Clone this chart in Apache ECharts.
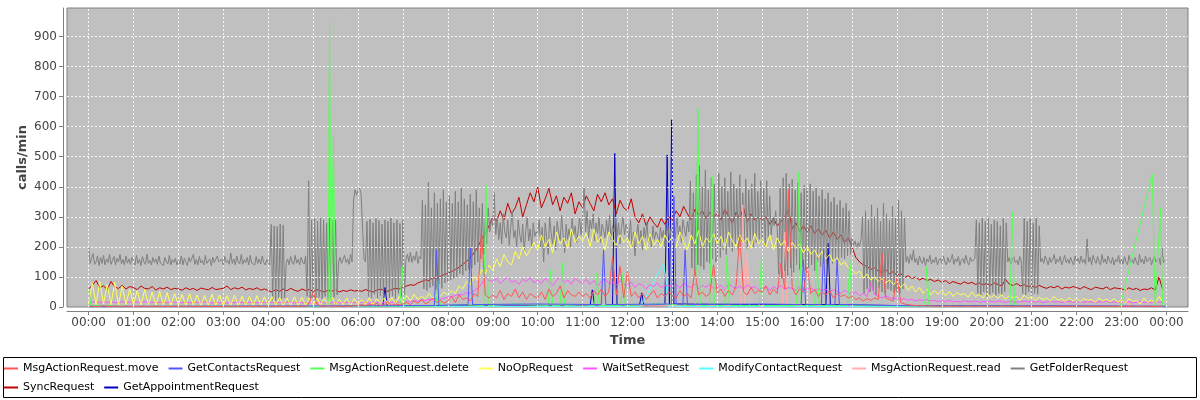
<!DOCTYPE html>
<html><head><meta charset="utf-8">
<script src="https://cdn.jsdelivr.net/npm/echarts@6.0.0/dist/echarts.min.js"></script>
<style>html,body{margin:0;padding:0;background:#fff}#chart{width:1200px;height:400px}</style>
</head><body><div id="chart"></div>
<script>
// ---- axis ticks ----
const tickMinutes = [0,60,120,180,240,300,360,420,480,540,600,660,720,780,840,900,960,1020,1080,1140,1200,1260,1320,1380,1440];
const tickLabels = ['00:00','01:00','02:00','03:00','04:00','05:00','06:00','07:00','08:00','09:00','10:00','11:00','12:00','13:00','14:00','15:00','16:00','17:00','18:00','19:00','20:00','21:00','22:00','23:00','00:00'];
const yTicks = [0,100,200,300,400,500,600,700,800,900];

const seriesNames = ['MsgActionRequest.move','GetContactsRequest','MsgActionRequest.delete','NoOpRequest','WaitSetRequest','ModifyContactRequest','MsgActionRequest.read','GetFolderRequest','SyncRequest','GetAppointmentRequest'];

// ---- GetFolderRequest: one value every 2 minutes (one row per hour) ----
const folderRequests = [
205,145,140,178,142,150,170,138,165,145,172,140,160,148,175,142,155,168,140,162,150,175,143,158,140,170,146,160,142,165,
150,140,172,145,158,138,168,150,142,176,145,155,140,165,148,160,142,170,146,152,138,165,150,143,172,140,158,148,162,140,
155,143,170,140,162,148,138,165,150,145,175,142,158,140,168,147,155,140,172,145,150,160,138,166,148,142,170,150,145,160,
140,168,148,155,142,180,145,160,140,170,150,143,175,142,158,148,165,140,172,146,152,140,168,145,160,143,170,148,140,158,
148,140,275,22,270,20,268,25,276,28,272,30,145,160,140,168,150,142,172,146,158,140,165,150,143,170,35,420,28,290,
30,295,25,285,32,300,28,290,35,280,30,295,26,288,33,290,40,150,165,145,158,172,148,160,142,175,150,355,390,372,
388,395,378,382,160,150,285,35,292,30,280,42,295,28,288,38,275,32,290,40,285,30,296,36,280,28,290,45,278,35,
290,40,160,175,150,182,148,170,155,185,145,168,160,355,60,340,55,415,65,330,70,380,58,345,75,360,62,390,80,350,
85,370,90,345,95,385,100,350,110,395,105,360,120,340,125,375,130,350,140,390,150,330,160,345,175,300,210,330,250,290,
270,380,240,300,225,280,210,310,250,230,290,205,265,320,230,255,200,290,240,215,275,185,250,300,220,260,195,280,235,250,
240,290,200,265,150,280,230,175,300,245,210,270,190,285,250,220,305,240,180,275,225,260,200,295,235,270,215,250,300,240,
300,400,250,320,230,290,260,310,220,280,245,300,215,275,255,230,290,240,305,225,270,250,295,235,280,210,265,300,240,275,
260,220,290,200,250,170,240,275,210,255,190,265,230,280,215,245,200,270,225,250,240,210,265,230,255,200,245,270,220,260,
250,280,230,300,240,270,215,290,260,235,285,250,420,130,380,120,440,140,470,135,400,125,455,150,390,145,430,160,410,150,
170,445,165,400,190,430,175,385,200,450,185,410,210,395,190,440,205,380,215,425,195,390,220,410,200,445,215,385,225,420,
215,395,200,420,230,370,240,300,270,320,260,110,400,95,430,120,445,105,410,130,425,115,390,140,415,125,380,135,405,120,
395,130,410,140,385,120,400,150,370,135,390,145,360,140,380,155,350,145,365,160,340,150,355,165,330,160,345,170,320,175,
230,205,220,195,215,200,225,300,45,320,60,290,50,340,55,300,40,330,65,285,50,345,45,310,60,290,55,335,48,300,
50,355,45,320,60,300,150,168,145,175,155,190,148,162,140,170,152,145,165,138,160,150,172,143,158,148,166,140,155,162,
145,170,150,140,165,148,158,175,142,160,150,168,138,155,162,145,172,150,140,165,152,148,160,290,45,280,40,295,50,285,
35,300,42,275,48,290,38,285,45,270,40,295,50,280,150,165,142,158,170,148,155,140,168,152,45,300,40,285,50,295,
38,280,45,300,42,270,150,162,145,170,155,140,165,148,158,175,143,160,150,168,140,155,172,148,160,145,165,150,140,170,
150,162,145,170,148,158,142,226,150,165,140,172,155,145,168,150,140,175,148,160,143,170,152,145,165,140,158,150,172,145,
160,143,168,150,140,172,148,158,145,165,150,140,175,148,160,143,170,150,145,165,140,158,168,150,145,162,140,197,148,155
];

// ---- one value every 5 minutes (one row per hour) ----
const syncRequests = [
60,72,88,65,70,58,85,66,62,72,60,68,
65,58,70,62,60,68,56,64,60,66,58,62,
60,56,64,58,62,55,63,60,57,65,58,60,
62,70,58,64,60,66,57,62,58,64,56,60,
55,50,58,52,60,54,62,56,52,60,55,58,
52,58,54,50,56,52,58,50,55,52,57,53,
55,52,58,54,50,56,60,55,52,58,62,60,
66,70,74,72,80,85,90,88,98,95,102,108,
112,118,125,132,142,152,165,180,200,225,245,270,
300,285,320,290,345,310,330,365,300,340,380,350,
400,330,360,395,340,370,320,365,345,380,310,350,
330,370,345,320,375,350,380,340,360,310,355,330,
320,360,300,280,310,270,300,280,265,295,275,300,
290,320,300,335,310,290,325,305,320,295,315,300,
310,290,325,300,280,315,295,330,285,310,290,300,
290,300,275,295,270,285,300,325,260,280,250,270,
250,270,245,260,240,255,230,250,225,240,215,230,
200,165,150,140,135,125,130,120,115,125,110,118,
105,112,98,104,95,100,90,96,88,92,85,90,
82,88,78,85,80,76,84,78,82,75,80,74,
78,72,80,75,70,92,76,72,78,70,74,68,
70,65,72,66,62,68,64,70,60,66,63,68,
65,60,68,62,58,66,63,60,67,58,64,62,
60,56,64,58,62,55,60,58,64,56,100,58
];
const noOpRequests = [
10,80,8,85,10,75,8,82,6,70,8,60,
8,55,6,58,7,50,5,52,6,48,5,45,
6,42,5,44,6,40,5,38,6,42,5,40,
5,38,6,40,5,36,6,35,5,38,6,34,
5,35,6,32,5,30,6,34,5,32,6,30,
6,30,8,28,6,32,7,26,8,30,6,28,
8,25,10,30,8,28,12,30,10,32,12,35,
15,38,20,42,25,35,28,45,30,40,35,50,
40,55,45,70,60,85,75,100,90,125,110,140,
120,160,135,175,150,140,185,160,200,170,190,215,
190,240,200,225,180,250,210,230,195,260,215,235,
220,245,200,260,215,235,190,250,225,205,240,215,
230,195,250,210,235,190,245,205,225,200,240,215,
235,200,250,215,190,240,210,255,200,230,215,245,
210,235,195,250,220,200,240,215,230,195,245,210,
225,200,240,190,230,205,220,185,215,195,210,180,
200,175,190,165,185,160,175,150,165,140,150,130,
125,110,120,95,110,90,100,85,95,80,90,75,
85,65,78,55,70,50,65,45,60,40,55,42,
55,38,52,35,48,40,45,32,50,35,42,30,
45,30,40,28,42,25,38,30,35,22,40,28,
35,22,32,25,30,20,35,22,28,18,32,20,
30,18,28,22,25,15,30,20,26,18,28,15,
25,12,28,18,22,10,30,15,24,12,35,18
];
const waitSetRequests = [
18,15,20,14,17,15,19,14,16,18,15,17,
15,17,14,18,15,16,13,17,15,14,18,15,
16,14,17,15,13,16,14,18,15,13,16,14,
15,13,16,14,17,15,13,16,14,15,13,16,
14,16,13,15,14,17,15,13,16,14,15,13,
15,13,16,14,12,15,17,14,13,16,14,15,
14,16,15,13,17,15,14,16,18,15,17,16,
18,20,17,22,19,24,21,26,23,28,25,30,
32,35,38,42,40,48,45,55,62,75,100,88,
85,95,78,90,100,82,88,75,92,85,98,80,
90,78,95,85,72,88,100,82,90,76,95,85,
80,92,75,88,70,85,95,78,82,72,88,76,
70,82,65,78,72,60,75,68,80,65,72,70,
68,75,62,80,70,65,78,60,72,66,75,62,
65,72,58,75,68,62,70,60,74,64,68,58,
62,70,55,68,60,72,58,65,62,55,68,60,
58,65,52,62,55,60,48,58,52,45,55,48,
42,50,38,45,35,80,42,35,30,38,32,28,
30,25,28,22,26,20,24,22,25,20,22,18,
20,18,22,17,19,16,21,18,17,20,16,18,
17,19,16,20,18,15,19,17,16,18,20,17,
18,16,19,15,17,20,16,18,15,17,19,16,
16,18,15,19,17,14,18,16,20,15,17,14,
17,15,18,14,16,19,15,17,14,18,16,15
];
const moveRequests = [
2,3,1,2,4,2,1,3,2,1,3,2,
2,1,3,2,1,2,3,1,2,2,1,3,
1,2,2,3,1,2,1,3,2,1,2,2,
2,3,1,2,2,1,3,2,1,2,3,1,
2,1,2,3,1,2,2,1,3,2,1,15,
50,10,3,2,4,2,3,2,1,3,2,4,
5,8,4,10,6,12,5,8,15,6,10,8,
10,15,8,20,12,25,10,18,30,15,22,12,
20,35,15,40,25,30,20,45,35,250,40,30,
40,30,55,25,45,35,60,30,50,25,45,35,
30,50,25,60,35,45,70,30,55,40,35,50,
35,45,30,55,40,60,35,50,165,40,135,30,
120,35,50,30,45,25,40,55,30,45,35,50,
40,30,55,35,45,30,124,40,50,35,45,140,
45,60,35,55,40,70,235,50,40,65,45,55,
50,70,40,60,45,147,60,390,65,40,60,50,
135,45,60,35,50,40,55,30,45,35,40,30,
35,25,30,20,28,22,30,25,180,30,25,20,
100,15,10,8,6,5,4,5,3,4,3,2,
3,2,4,2,3,1,2,3,2,1,3,2,
2,3,1,2,4,2,3,1,2,3,2,1,
3,2,2,1,3,2,1,2,3,2,1,2,
2,1,3,2,1,2,2,3,1,2,1,2,
2,1,2,3,2,1,2,3,2,1,2,2
];

// ---- sparse series: minute of day / value ----
const deleteTimes = [0,3,60,180,300,320,322,324,327,330,416,419,422,464,467,470,500,528,531,534,570,614,617,620,630,633,636,660,676,679,682,711,714,717,760,811,814,817,830,833,836,850,853,856,896,899,902,946,949,952,970,973,976,1014,1017,1020,1060,1117,1120,1123,1231,1234,1237,1378,1421,1425,1432,1435,1439];
const deleteValues = [60,5,2,3,2,3,950,20,567,3,3,135,3,3,85,3,8,5,406,5,10,5,124,5,5,146,5,8,5,113,5,5,113,5,10,5,662,5,5,434,5,5,168,5,5,168,5,5,451,5,5,157,5,5,157,5,4,3,135,3,3,317,3,0,443,0,330,5,3];
const contactsTimes = [0,200,400,462,465,468,507,510,513,600,685,688,691,779,782,785,794,797,800,900,952,955,958,979,982,985,997,1000,1003,1100,1300,1439];
const contactsValues = [2,3,4,5,190,5,8,196,8,10,8,190,8,10,368,10,8,190,8,10,8,157,8,8,190,8,8,157,8,4,3,2];
const appointmentTimes = [0,300,393,396,399,500,670,673,676,700,703,706,736,739,742,770,773,776,779,782,900,985,988,991,1100,1439];
const appointmentValues = [1,2,3,65,3,6,5,57,5,5,511,5,5,47,5,8,506,10,623,10,8,8,213,8,4,2];
const modifyTimes = [0,738,741,768,771,774,1439];
const modifyValues = [1,2,18,146,101,2,1];
const readTimes = [0,600,871,874,877,880,883,927,930,933,1100,1376,1386,1390,1439];
const readValues = [1,3,5,340,10,180,5,5,250,5,2,0,65,2,1];

function onGrid(vals, step) { return vals.map((v, i) => [i * step, v]); }
function pairs(ts, vs) { return ts.map((t, i) => [t, vs[i]]); }

const colors = ['#ff5555','#5555ff','#55ff55','#ffff55','#ff55ff','#55ffff','#ffafaf','#808080','#c00000','#0000c0'];
const datasets = [
  onGrid(moveRequests, 5),
  pairs(contactsTimes, contactsValues),
  pairs(deleteTimes, deleteValues),
  onGrid(noOpRequests, 5),
  onGrid(waitSetRequests, 5),
  pairs(modifyTimes, modifyValues),
  pairs(readTimes, readValues),
  onGrid(folderRequests, 2),
  onGrid(syncRequests, 5),
  pairs(appointmentTimes, appointmentValues)
];

const gridLineStyle = { color: '#ffffff', opacity: 0.85, type: [2, 2], width: 1 };
const series = [{
  name: '_grid', type: 'line', data: [], silent: true, animation: false,
  markLine: {
    silent: true, symbol: 'none', animation: false, label: { show: false },
    lineStyle: gridLineStyle, emphasis: { disabled: true },
    data: tickMinutes.map(t => ({ xAxis: t })).concat(yTicks.slice(1).map(v => ({ yAxis: v })))
  }
}];
for (let i = seriesNames.length - 1; i >= 0; i--) {
  series.push({
    name: seriesNames[i], type: 'line', data: datasets[i],
    showSymbol: false, symbol: 'none', silent: true,
    lineStyle: { width: 1, color: colors[i] }, itemStyle: { color: colors[i] },
    emphasis: { disabled: true }, animation: false
  });
}

const font = 'DejaVu Sans';
const legendText = { fontFamily: font, fontSize: 11, color: '#000' };
const legendCommon = { left: 4, padding: 0, icon: 'rect', itemWidth: 14, itemHeight: 2, itemGap: 10, selectedMode: false, textStyle: legendText, itemStyle: { borderWidth: 0 } };
const chart = echarts.init(document.getElementById('chart'));
chart.setOption({
  animation: false,
  backgroundColor: '#ffffff',
  grid: { left: 67, top: 8, width: 1121, height: 299, show: true, backgroundColor: '#c0c0c0', borderColor: '#808080', borderWidth: 1 },
  xAxis: {
    type: 'value', min: -28.8, max: 1468.8, offset: 4,
    name: 'Time', nameLocation: 'middle', nameGap: 23,
    nameTextStyle: { fontFamily: font, fontSize: 13, fontWeight: 'bold', color: '#444' },
    axisLine: { show: true, onZero: false, lineStyle: { color: '#808080' } },
    axisTick: { show: true, length: 4, customValues: tickMinutes, lineStyle: { color: '#808080' } },
    axisLabel: { customValues: tickMinutes, margin: 6, fontFamily: font, fontSize: 12, color: '#444',
      formatter: v => tickLabels[tickMinutes.indexOf(v)] },
    splitLine: { show: false }
  },
  yAxis: {
    type: 'value', min: 0, max: 995, offset: 4,
    name: 'calls/min', nameLocation: 'middle', nameGap: 34, nameRotate: 90, nameMoveOverlap: false,
    nameTextStyle: { fontFamily: font, fontSize: 13, fontWeight: 'bold', color: '#444' },
    axisLine: { show: true, onZero: false, lineStyle: { color: '#808080' } },
    axisTick: { show: true, length: 4, customValues: yTicks, lineStyle: { color: '#808080' } },
    axisLabel: { customValues: yTicks, margin: 6, fontFamily: font, fontSize: 12, color: '#444' },
    splitLine: { show: false }
  },
  legend: [
    Object.assign({ data: seriesNames.slice(0, 8), top: 363 }, legendCommon),
    Object.assign({ data: seriesNames.slice(8), top: 382 }, legendCommon)
  ],
  graphic: [{ type: 'rect', silent: true, shape: { x: 3.5, y: 357.5, width: 1193, height: 40 }, style: { fill: null, stroke: '#000', lineWidth: 1 } }],
  series: series
});
</script>
</body></html>
